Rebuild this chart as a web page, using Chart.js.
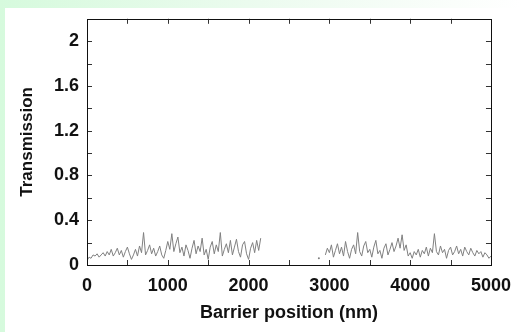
<!DOCTYPE html>
<html>
<head>
<meta charset="utf-8">
<script src="https://cdn.jsdelivr.net/npm/chart.js@4.4.1/dist/chart.umd.min.js"></script>
<style>
  html, body { margin: 0; padding: 0; }
  body {
    width: 521px; height: 332px; overflow: hidden; position: relative;
    background: linear-gradient(to right, #d6fadd 0%, #ecfbef 50%, #ffffff 100%);
  }
  #panel { position: absolute; left: 5px; top: 8px; right: 0; bottom: 0; background: #fff; }
  #wrap { position: absolute; left: 0; top: 0; width: 521px; height: 332px; }
</style>
</head>
<body>
<div id="panel"></div>
<div id="wrap"><canvas id="transmission"></canvas></div>
<script>
// Transmission vs barrier position: [position nm, transmission]
const segmentA = [
  [0, .04], [25, .07], [50, .06], [75, .09], [100, .08], [125, .10], [150, .07], [175, .09],
  [200, .11], [225, .08], [250, .12], [275, .09], [300, .14], [325, .08], [350, .11], [375, .15],
  [400, .09], [425, .13], [450, .07], [475, .12], [500, .16], [525, .10], [550, .05], [575, .09],
  [600, .14], [625, .08], [650, .17], [675, .11], [700, .29], [725, .09], [750, .13], [775, .18],
  [800, .10], [825, .15], [850, .08], [875, .12], [900, .17], [925, .09], [950, .06], [975, .13],
  [1000, .21], [1025, .14], [1050, .28], [1075, .12], [1100, .19], [1125, .25], [1150, .11], [1175, .16],
  [1200, .08], [1225, .18], [1250, .13], [1275, .06], [1300, .15], [1325, .22], [1350, .10], [1375, .17],
  [1400, .12], [1425, .24], [1450, .09], [1475, .14], [1500, .05], [1525, .16], [1550, .21], [1575, .10],
  [1600, .18], [1625, .12], [1650, .29], [1675, .08], [1700, .14], [1725, .19], [1750, .11], [1775, .22],
  [1800, .09], [1825, .16], [1850, .23], [1875, .12], [1900, .07], [1925, .18], [1950, .21], [1975, .10],
  [2000, .05], [2025, .15], [2050, .20], [2075, .11], [2100, .22], [2125, .13], [2150, .24]
];

const segmentB = [
  [2950, .09], [2975, .15], [3000, .11], [3025, .18], [3050, .07], [3075, .13], [3100, .19], [3125, .10],
  [3150, .16], [3175, .08], [3200, .21], [3225, .12], [3250, .06], [3275, .14], [3300, .18], [3325, .10],
  [3350, .29], [3375, .12], [3400, .08], [3425, .17], [3450, .21], [3475, .11], [3500, .14], [3525, .07],
  [3550, .16], [3575, .22], [3600, .10], [3625, .13], [3650, .06], [3675, .15], [3700, .19], [3725, .09],
  [3750, .14], [3775, .20], [3800, .12], [3825, .17], [3850, .24], [3875, .15], [3900, .27], [3925, .13],
  [3950, .18], [3975, .08], [4000, .11], [4025, .06], [4050, .12], [4075, .09], [4100, .14], [4125, .07],
  [4150, .13], [4175, .10], [4200, .16], [4225, .08], [4250, .15], [4275, .11], [4300, .28], [4325, .12],
  [4350, .09], [4375, .17], [4400, .11], [4425, .14], [4450, .06], [4475, .13], [4500, .16], [4525, .09],
  [4550, .12], [4575, .17], [4600, .10], [4625, .14], [4650, .08], [4675, .16], [4700, .12], [4725, .09],
  [4750, .15], [4775, .11], [4800, .08], [4825, .13], [4850, .10], [4875, .12], [4900, .07], [4925, .11],
  [4950, .09], [4975, .06], [5000, .08]
];

// a single stray sample inside the gap
const straySample = [[2870, .06]];

const xLabels = [0, 1000, 2000, 3000, 4000, 5000];
const yLabels = [0, 0.4, 0.8, 1.2, 1.6, 2];

const toPoints = pairs => pairs.map(p => ({ x: p[0], y: p[1] }));

const FONT = "'Liberation Sans', Arial, Helvetica, sans-serif";
const LINE = '#808080';

// frame + inward ticks on all four sides
const frameTicks = {
  id: 'frameTicks',
  afterDraw(chart) {
    const { ctx, chartArea: a, scales } = chart;
    const xs = scales.x, ys = scales.y;
    ctx.save();
    ctx.strokeStyle = '#333';
    ctx.lineWidth = 1;
    ctx.beginPath();
    for (let v = 500; v < 5000; v += 500) {
      const px = Math.round(xs.getPixelForValue(v)) + 0.5;
      ctx.moveTo(px, a.bottom); ctx.lineTo(px, a.bottom - 5);
      ctx.moveTo(px, a.top); ctx.lineTo(px, a.top + 5);
    }
    for (let k = 1; k <= 10; k++) {
      const py = Math.round(ys.getPixelForValue(k * 0.2)) + 0.5;
      ctx.moveTo(a.left, py); ctx.lineTo(a.left + 5, py);
      ctx.moveTo(a.right, py); ctx.lineTo(a.right - 5, py);
    }
    ctx.stroke();
    ctx.strokeStyle = '#111';
    ctx.strokeRect(Math.round(a.left) + 0.5, Math.round(a.top) + 0.5,
      Math.round(a.right - a.left), Math.round(a.bottom - a.top));
    ctx.restore();
  }
};

function initializeTransmissionChart() {
  const ctx = document.getElementById('transmission');
  if (!ctx) return;

  new Chart(ctx, {
    type: 'scatter',
    data: {
      datasets: [
        { data: toPoints(segmentA), showLine: true, borderColor: LINE, borderWidth: 1, pointRadius: 0 },
        { data: toPoints(segmentB), showLine: true, borderColor: LINE, borderWidth: 1, pointRadius: 0 },
        { data: toPoints(straySample), showLine: false, backgroundColor: LINE, borderWidth: 0, pointRadius: 1 }
      ]
    },
    options: {
      responsive: false,
      animation: false,
      layout: { padding: { top: 17, right: 24, left: 0, bottom: 0 } },
      plugins: {
        legend: { display: false },
        tooltip: { enabled: false }
      },
      scales: {
        x: {
          type: 'linear',
          min: 0,
          max: 5000,
          grid: { display: false, drawTicks: false },
          border: { display: false },
          afterFit: s => { s.height = 67; },
          afterBuildTicks: s => { s.ticks = xLabels.map(v => ({ value: v })); },
          ticks: {
            padding: 10,
            maxRotation: 0,
            color: '#111',
            font: { family: FONT, size: 18, weight: 'bold' },
            callback: v => String(v)
          },
          title: {
            display: true,
            text: 'Barrier position (nm)',
            color: '#111',
            font: { family: FONT, size: 18, weight: 'bold' },
            padding: { top: 4, bottom: 8 }
          }
        },
        y: {
          type: 'linear',
          min: 0,
          max: 2.2,
          grid: { display: false, drawTicks: false },
          border: { display: false },
          afterFit: s => { s.width = 87; },
          afterBuildTicks: s => { s.ticks = yLabels.map(v => ({ value: v })); },
          ticks: {
            padding: 8,
            color: '#111',
            font: { family: FONT, size: 18, weight: 'bold' },
            callback: v => String(v)
          },
          title: {
            display: true,
            text: 'Transmission',
            color: '#111',
            font: { family: FONT, size: 17, weight: 'bold' },
            padding: { top: 17, bottom: 0 }
          }
        }
      }
    },
    plugins: [frameTicks]
  });
}

document.addEventListener('DOMContentLoaded', () => {
  const c = document.getElementById('transmission');
  c.width = 521; c.height = 332;
  initializeTransmissionChart();
});
</script>
</body>
</html>
